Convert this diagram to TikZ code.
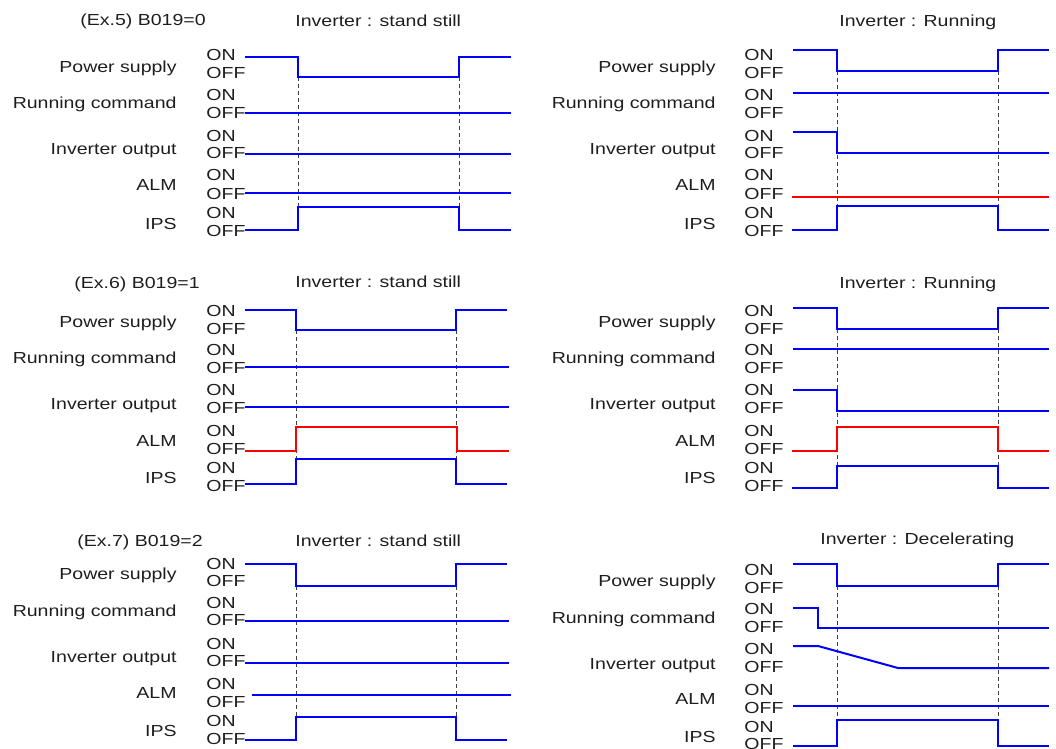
\documentclass[tikz,border=0pt]{standalone}
\usepackage{fontspec}
\setmainfont{Liberation Sans}[FakeStretch=1.22]
\definecolor{sigblue}{RGB}{0,0,255}
\definecolor{sigred}{RGB}{255,0,0}
\definecolor{txtgray}{RGB}{30,30,30}
% one signal row: name, text, label x, label base y, ON/OFF x, ON base y, OFF base y
\newcommand{\sigrow}[7]{%
  \node[sname](#1)at(#3,#4){#2};
  \node[lvl](#1on)at(#5,#6){ON};
  \node[lvl](#1off)at(#5,#7){OFF};}
\begin{document}
\begin{tikzpicture}[x=.5pt,y=-.5pt,
  every node/.style={inner sep=0pt,text=txtgray,font=\fontsize{8}{9.6}\selectfont},
  sname/.style={anchor=base east},
  lvl/.style={anchor=base west},
  ttl/.style={anchor=base west},
  wave/.style={draw=sigblue,line width=1pt},
  almwave/.style={draw=sigred,line width=1pt},
  guide/.style={draw=black!75,line width=.45pt,dash pattern=on 2pt off 1.5pt}]
                    \useasboundingbox(0,0)rectangle(1056,749);
                    % (Ex.5) stand still
                    \node[ttl](t5)at(80,26){(Ex.5) B019=0};
                    \node[ttl](s5)at(295,27){Inverter : stand still};
                    \sigrow{aps}{Power supply}{177}{73}{206}{61}{79}
                    \sigrow{arc}{Running command}{177}{109}{206}{101}{119}
                    \sigrow{aio}{Inverter output}{177}{155}{206}{141}{159}
                    \sigrow{aalm}{ALM}{177}{191}{206}{181}{199}
                    \sigrow{aips}{IPS}{177}{229}{206}{219}{236}
                    \draw[guide](298,77)--(298,207);
                    \draw[guide](459,77)--(459,207);
                    \draw[wave](245,57)--(298,57)--(298,77)--(459,77)--(459,57)--(511,57);
                    \draw[wave](245,113)--(511,113);
                    \draw[wave](245,154)--(511,154);
                    \draw[wave](245,193)--(511,193);
                    \draw[wave](245,230)--(298,230)--(298,207)--(459,207)--(459,230)--(511,230);
                    % (Ex.5) running
                    \node[ttl](r5)at(839,27){Inverter : Running};
                    \sigrow{bps}{Power supply}{716}{73}{744}{61}{79}
                    \sigrow{brc}{Running command}{716}{109}{744}{101}{119}
                    \sigrow{bio}{Inverter output}{716}{155}{744}{141}{159}
                    \sigrow{balm}{ALM}{716}{191}{744}{181}{199}
                    \sigrow{bips}{IPS}{716}{229}{744}{219}{236}
                    \draw[guide](837,71)--(837,206);
                    \draw[guide](998,71)--(998,206);
                    \draw[wave](793,50)--(837,50)--(837,71)--(998,71)--(998,50)--(1049,50);
                    \draw[wave](793,93)--(1049,93);
                    \draw[wave](793,132)--(837,132)--(837,153)--(1049,153);
                    \draw[almwave](792,197)--(1049,197);
                    \draw[wave](792,230)--(837,230)--(837,206)--(998,206)--(998,230)--(1049,230);
                    % (Ex.6) stand still
                    \node[ttl](t6)at(74,288){(Ex.6) B019=1};
                    \node[ttl](s6)at(295,287){Inverter : stand still};
                    \sigrow{cps}{Power supply}{177}{327}{206}{316}{334}
                    \sigrow{crc}{Running command}{177}{363}{206}{355}{373}
                    \sigrow{cio}{Inverter output}{177}{409}{206}{395}{413}
                    \sigrow{calm}{ALM}{177}{446}{206}{436}{454}
                    \sigrow{cips}{IPS}{177}{483}{206}{473}{491}
                    \draw[guide](296,330)--(296,459);
                    \draw[guide](456,330)--(456,459);
                    \draw[wave](245,310)--(296,310)--(296,330)--(456,330)--(456,310)--(507,310);
                    \draw[wave](245,367)--(509,367);
                    \draw[wave](245,407)--(509,407);
                    \draw[almwave](245,451)--(296,451)--(296,427)--(457,427)--(457,451)--(509,451);
                    \draw[wave](245,484)--(296,484)--(296,459)--(456,459)--(456,484)--(507,484);
                    % (Ex.6) running
                    \node[ttl](r6)at(839,288){Inverter : Running};
                    \sigrow{dps}{Power supply}{716}{327}{744}{316}{334}
                    \sigrow{drc}{Running command}{716}{363}{744}{355}{373}
                    \sigrow{dio}{Inverter output}{716}{409}{744}{395}{413}
                    \sigrow{dalm}{ALM}{716}{446}{744}{436}{454}
                    \sigrow{dips}{IPS}{716}{483}{744}{473}{491}
                    \draw[guide](837,329)--(837,466);
                    \draw[guide](998,329)--(998,466);
                    \draw[wave](793,308)--(837,308)--(837,329)--(998,329)--(998,308)--(1049,308);
                    \draw[wave](793,349)--(1049,349);
                    \draw[wave](793,390)--(837,390)--(837,411)--(1049,411);
                    \draw[almwave](792,451)--(837,451)--(837,427)--(998,427)--(998,451)--(1049,451);
                    \draw[wave](792,488)--(837,488)--(837,466)--(998,466)--(998,488)--(1049,488);
                    % (Ex.7) stand still
                    \node[ttl](t7)at(77,546){(Ex.7) B019=2};
                    \node[ttl](s7)at(295,546){Inverter : stand still};
                    \sigrow{eps}{Power supply}{177}{579}{206}{569}{586}
                    \sigrow{erc}{Running command}{177}{616}{206}{608}{625}
                    \sigrow{eio}{Inverter output}{177}{662}{206}{649}{666}
                    \sigrow{ealm}{ALM}{177}{698}{206}{689}{707}
                    \sigrow{eips}{IPS}{177}{736}{206}{726}{744}
                    \draw[guide](296,586)--(296,717);
                    \draw[guide](456,586)--(456,717);
                    \draw[wave](245,564)--(296,564)--(296,586)--(456,586)--(456,564)--(507,564);
                    \draw[wave](245,621)--(509,621);
                    \draw[wave](245,663)--(509,663);
                    \draw[wave](252,695)--(511,695);
                    \draw[wave](245,740)--(296,740)--(296,717)--(456,717)--(456,740)--(507,740);
                    % (Ex.7) decelerating
                    \node[ttl](d7)at(820,544){Inverter : Decelerating};
                    \sigrow{fps}{Power supply}{716}{586}{744}{575}{593}
                    \sigrow{frc}{Running command}{716}{623}{744}{614}{632}
                    \sigrow{fio}{Inverter output}{716}{669}{744}{654}{672}
                    \sigrow{falm}{ALM}{716}{704}{744}{695}{713}
                    \sigrow{fips}{IPS}{716}{742}{744}{732}{749}
                    \draw[guide](837,586)--(837,720);
                    \draw[guide](998,586)--(998,720);
                    \draw[wave](793,564)--(837,564)--(837,586)--(998,586)--(998,564)--(1049,564);
                    \draw[wave](793,608)--(818,608)--(818,628)--(1049,628);
                    \draw[wave](793,646)--(818,646)--(898,668)--(1049,668);
                    \draw[wave](793,706)--(1049,706);
                    \draw[wave](793,746)--(837,746)--(837,720)--(998,720)--(998,746)--(1049,746);
                \end{tikzpicture}
\end{document}
